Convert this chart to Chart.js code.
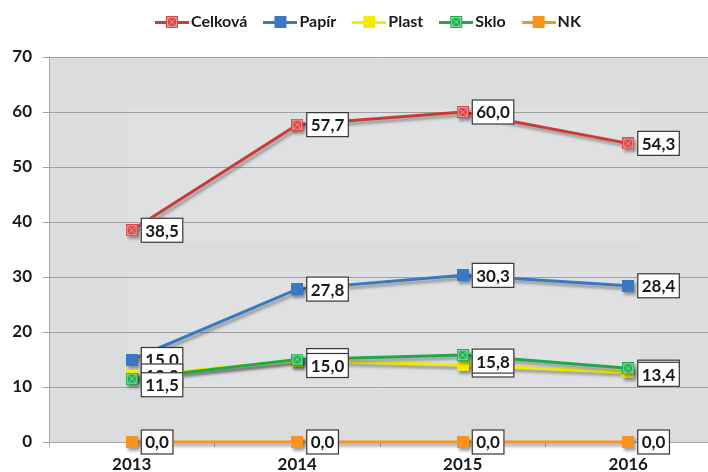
<!DOCTYPE html>
<html>
<head>
<meta charset="utf-8">
<script src="https://cdn.jsdelivr.net/npm/chart.js@4.4.1/dist/chart.umd.min.js"></script>
<style>
  html, body { margin: 0; padding: 0; background: #fff; overflow: hidden; }
  #wrap { width: 720px; height: 472px; }
</style>
</head>
<body>
<div id="wrap"><canvas id="myChart" width="720" height="472"></canvas></div>
<script>
// Data
const years = ['2013', '2014', '2015', '2016'];
const seriesNames = ['Celková', 'Papír', 'Plast', 'Sklo', 'NK'];
const celkova = [38.5, 57.7, 60.0, 54.3];
const papir = [15.0, 27.8, 30.3, 28.4];
const plast = [12.0, 14.8, 14.0, 12.7];
const sklo = [11.5, 15.0, 15.8, 13.4];
const nk = [0.0, 0.0, 0.0, 0.0];
const yTicks = [0, 10, 20, 30, 40, 50, 60, 70];

const FONT = "Lato, 'Open Sans', sans-serif";

// square marker, optionally with an X across it
function marker(fill, cross) {
    const c = document.createElement('canvas');
    c.width = 12; c.height = 12;
    const g = c.getContext('2d');
    g.fillStyle = fill;
    g.fillRect(0, 0, 12, 12);
    if (cross) {
        g.strokeStyle = cross;
        g.lineWidth = 1;
        g.beginPath();
        g.moveTo(1.5, 1.5); g.lineTo(10.5, 10.5);
        g.moveTo(10.5, 1.5); g.lineTo(1.5, 10.5);
        g.stroke();
        g.strokeRect(1.5, 1.5, 9, 9);
    }
    return c;
}

function legendIcon(color, mk) {
    const c = document.createElement('canvas');
    c.width = 34; c.height = 12;
    const g = c.getContext('2d');
    g.fillStyle = color;
    g.fillRect(0, 5, 34, 3);
    g.drawImage(mk, 11, 0);
    return c;
}

const colors = ['#cc3a36', '#3b78c2', '#f2ec00', '#1ea84a', '#f7931e'];
const markers = [
    marker('#d44c4a', '#ec9090'),
    marker('#3b78c2'),
    marker('#f2ec00'),
    marker('#22ac50', '#7ed89a'),
    marker('#f7931e')
];
const values = [celkova, papir, plast, sklo, nk];
const labelShift = [0, 0, 0, 6, 0];

const datasets = values.map((v, i) => ({
    label: seriesNames[i],
    data: v,
    borderColor: colors[i],
    backgroundColor: colors[i],
    borderWidth: 3,
    pointStyle: markers[i],
    pointRadius: 6,
    tension: 0,
    clip: false,
    order: 5 - i
}));

// plot background + lighter panels
const bgPlugin = {
    id: 'bg',
    beforeDraw(chart) {
        const { ctx, chartArea: a, scales } = chart;
        ctx.save();
        ctx.fillStyle = '#dbdcde';
        ctx.fillRect(a.left, a.top, a.right - a.left, a.bottom - a.top);
        const x0 = scales.x.getPixelForValue(0) - 4;
        const x1 = scales.x.getPixelForValue(3) + 12;
        ctx.fillStyle = 'rgba(255,255,255,0.12)';
        let y0 = scales.y.getPixelForValue(60.7), y1 = scales.y.getPixelForValue(36.4);
        ctx.fillRect(x0, y0, x1 - x0, y1 - y0);
        y0 = scales.y.getPixelForValue(30.9); y1 = scales.y.getPixelForValue(9.5);
        ctx.fillRect(x0, y0, x1 - x0, y1 - y0);
        ctx.restore();
    }
};

// drop shadow under lines
const shadowPlugin = {
    id: 'shadow',
    beforeDatasetDraw(chart) {
        const ctx = chart.ctx;
        ctx.save();
        ctx.shadowColor = 'rgba(0,0,0,0.35)';
        ctx.shadowBlur = 3;
        ctx.shadowOffsetX = 2;
        ctx.shadowOffsetY = 3;
    },
    afterDatasetDraw(chart) {
        chart.ctx.restore();
    }
};

// boxed value labels
const labelPlugin = {
    id: 'boxLabels',
    afterDatasetsDraw(chart) {
        const ctx = chart.ctx;
        ctx.save();
        ctx.font = 'bold 17px ' + FONT;
        ctx.textBaseline = 'middle';
        chart.data.datasets.forEach((ds, i) => {
            const meta = chart.getDatasetMeta(i);
            meta.data.forEach((pt, j) => {
                const txt = ds.data[j].toFixed(1).replace('.', ',');
                const w = ctx.measureText(txt).width + 9;
                const h = 25;
                const x = pt.x + 9;
                const y = pt.y + labelShift[i] - h / 2;
                ctx.fillStyle = '#ffffff';
                ctx.fillRect(x, y, w, h);
                ctx.strokeStyle = '#333333';
                ctx.lineWidth = 1.2;
                ctx.strokeRect(x + 0.5, y + 0.5, w - 1, h - 1);
                ctx.fillStyle = '#1a1a1a';
                ctx.fillText(txt, x + 4.5, y + h / 2 + 1);
            });
        });
        ctx.restore();
    }
};

// legend across the top
const legendPlugin = {
    id: 'topLegend',
    afterDraw(chart) {
        const ctx = chart.ctx;
        ctx.save();
        ctx.font = 'bold 16px ' + FONT;
        ctx.textBaseline = 'middle';
        let x = 155;
        const y = 22;
        chart.data.datasets.forEach((ds, i) => {
            ctx.drawImage(legendIcon(colors[i], markers[i]), x, y - 6);
            x += 36;
            ctx.fillStyle = '#1a1a1a';
            ctx.fillText(ds.label, x, y);
            x += ctx.measureText(ds.label).width + 16;
        });
        ctx.restore();
    }
};

const config = {
    type: 'line',
    data: { labels: years, datasets: datasets },
    plugins: [bgPlugin, shadowPlugin, labelPlugin, legendPlugin],
    options: {
        responsive: false,
        animation: false,
        layout: { padding: { top: 57, right: 3, left: 0, bottom: 0 } },
        plugins: {
            legend: { display: false },
            tooltip: { enabled: false }
        },
        scales: {
            x: {
                offset: true,
                grid: {
                    offset: true,
                    drawOnChartArea: false,
                    tickLength: 5,
                    color: '#a6a6a6'
                },
                border: { color: '#a6a6a6', width: 1 },
                ticks: {
                    color: '#1a1a1a',
                    font: { family: FONT, size: 17, weight: 'bold' },
                    padding: 7
                },
                afterFit(scale) { scale.height = 30; }
            },
            y: {
                min: 0,
                max: 70,
                afterBuildTicks(scale) { scale.ticks = yTicks.map(v => ({ value: v })); },
                grid: { color: '#a0a0a0', tickLength: 6 },
                border: { color: '#a6a6a6', width: 1 },
                ticks: {
                    color: '#1a1a1a',
                    font: { family: FONT, size: 17, weight: 'bold' },
                    padding: 11
                },
                afterFit(scale) { scale.width = 49; }
            }
        }
    }
};

const myChart = new Chart(document.getElementById('myChart'), config);
</script>
</body>
</html>
